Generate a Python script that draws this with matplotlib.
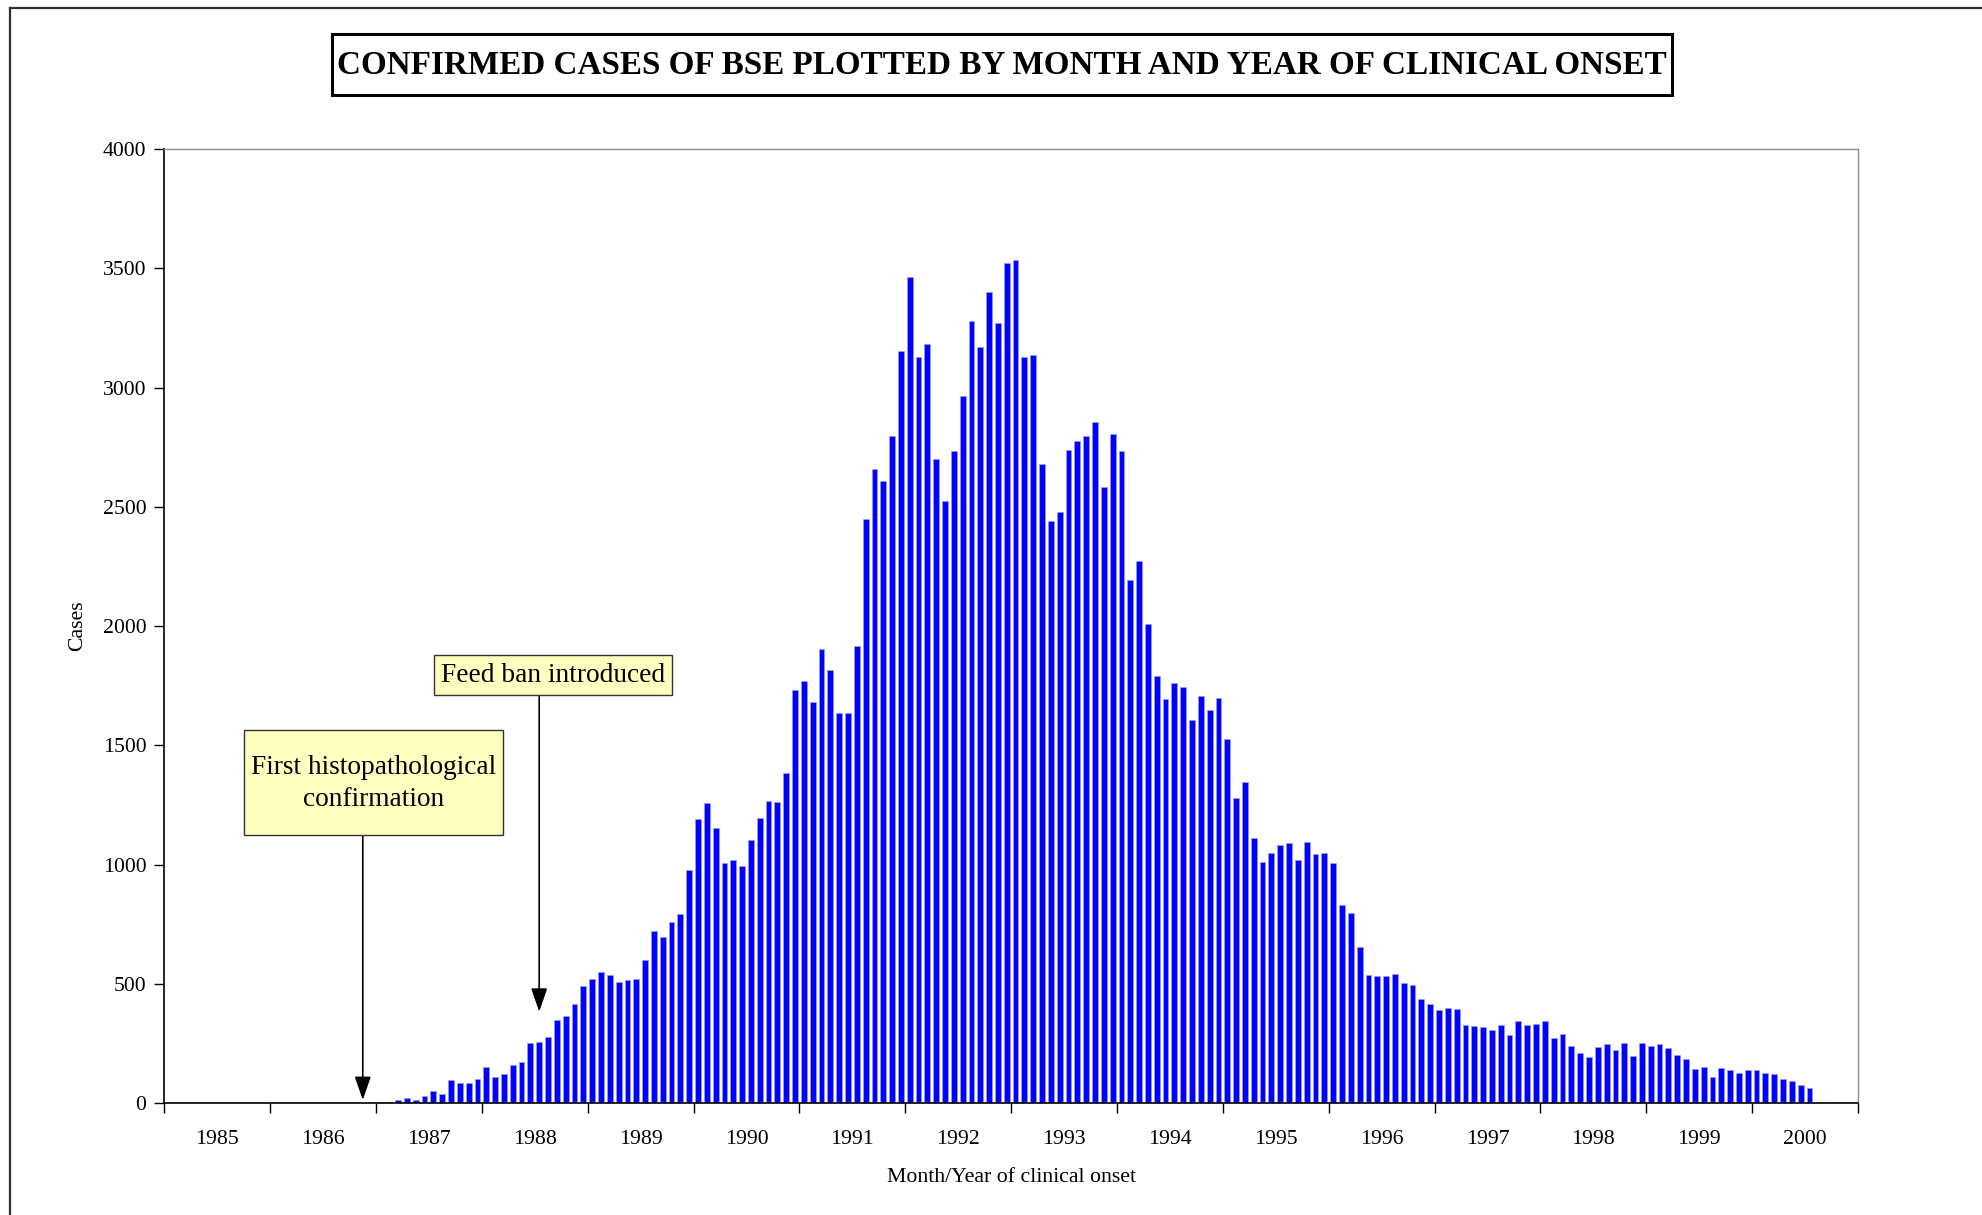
import matplotlib
matplotlib.use('Agg')
import matplotlib.pyplot as plt
from matplotlib.patches import Rectangle
from matplotlib.lines import Line2D
import numpy as np

plt.rcParams['font.family'] = ['Liberation Serif', 'DejaVu Serif']

W, H, DPI = 1982, 1215, 100

# monthly confirmed cases, Jan..Dec of each year
years = list(range(1985, 2001))
cases_1985 = [0, 0, 0, 0, 0, 0, 0, 0, 0, 0, 0, 0]
cases_1986 = [0, 0, 0, 0, 0, 0, 0, 0, 0, 0, 2, 3]
cases_1987 = [6, 6, 12, 22, 12, 32, 52, 39, 98, 84, 86, 103]
cases_1988 = [151, 110, 124, 159, 172, 251, 257, 277, 349, 366, 416, 493]
cases_1989 = [521, 551, 537, 507, 517, 522, 602, 721, 699, 760, 792, 978]
cases_1990 = [1193, 1260, 1154, 1007, 1018, 995, 1104, 1195, 1266, 1264, 1384, 1734]
cases_1991 = [1771, 1682, 1906, 1815, 1634, 1638, 1918, 2450, 2659, 2608, 2795, 3153]
cases_1992 = [3464, 3128, 3183, 2700, 2523, 2735, 2965, 3280, 3172, 3399, 3271, 3524]
cases_1993 = [3535, 3128, 3135, 2680, 2440, 2477, 2737, 2778, 2797, 2854, 2585, 2804]
cases_1994 = [2735, 2192, 2275, 2010, 1789, 1693, 1762, 1746, 1608, 1707, 1647, 1700]
cases_1995 = [1527, 1281, 1346, 1111, 1010, 1051, 1083, 1093, 1019, 1097, 1044, 1051]
cases_1996 = [1009, 830, 798, 654, 539, 532, 535, 543, 503, 496, 437, 416]
cases_1997 = [391, 400, 394, 330, 324, 319, 307, 330, 285, 346, 327, 331]
cases_1998 = [344, 274, 289, 240, 212, 193, 237, 249, 222, 251, 198, 253]
cases_1999 = [240, 247, 230, 203, 187, 142, 151, 110, 147, 141, 127, 138]
cases_2000 = [138, 127, 122, 102, 95, 77, 66, 0, 0, 0, 0, 0]

cases = (cases_1985 + cases_1986 + cases_1987 + cases_1988 + cases_1989 +
         cases_1990 + cases_1991 + cases_1992 + cases_1993 + cases_1994 +
         cases_1995 + cases_1996 + cases_1997 + cases_1998 + cases_1999 +
         cases_2000)

# annotation targets: month index and value the arrow tip reaches
first_conf_month, first_conf_tip, first_conf_start = 22, 14, 1124
feed_ban_month, feed_ban_tip, feed_ban_start = 42, 384, 1711


def fx(x):
    return x / W


def fy(y):
    return 1 - y / H


fig = plt.figure(figsize=(W / DPI, H / DPI), dpi=DPI)

# chart-area border (top and left edges visible)
fig.add_artist(Line2D([fx(10), 1], [fy(8), fy(8)], color='#303030', lw=1.6))
fig.add_artist(Line2D([fx(10), fx(10)], [fy(8), 0], color='#303030', lw=1.6))

ax = fig.add_axes([fx(164.3), fy(1103.3), (1858 - 164.3) / W, (1103.3 - 149) / H])

x = np.arange(len(cases))
ax.bar(x, cases, width=0.66, color='#0000FF', edgecolor='#9c9cff', linewidth=0.5)

ax.set_xlim(-0.5, len(cases) - 0.5)
ax.set_ylim(0, 4000)
ax.set_yticks(np.arange(0, 4001, 500))
ax.set_xticks(np.arange(-0.5, len(cases), 12))
ax.set_xticklabels([])
ax.set_xticks(np.arange(5.5, len(cases), 12), minor=True)
ax.set_xticklabels([str(y) for y in years], minor=True)

ax.tick_params(axis='both', which='major', direction='out', length=7, width=1,
               labelsize=15.7, color='black')
ax.tick_params(axis='y', pad=6)
ax.tick_params(axis='x', which='minor', length=0, pad=19, labelsize=15.7)

for s in ['top', 'right']:
    ax.spines[s].set_color('#8c8c8c')
    ax.spines[s].set_linewidth(1)
for s in ['left', 'bottom']:
    ax.spines[s].set_color('black')
    ax.spines[s].set_linewidth(1.2)

fig.text(fx(1011.7), fy(1177.5), 'Month/Year of clinical onset', ha='center',
         va='center', fontsize=15.7)
fig.text(fx(78), fy(626), 'Cases', ha='center', va='center', rotation=90,
         fontsize=15.7)

# title box
fig.add_artist(Rectangle((fx(332), fy(95)), (1672 - 332) / W, (95 - 34) / H,
                         transform=fig.transFigure, facecolor='white',
                         edgecolor='black', linewidth=2.2))
fig.text(fx(1002), fy(65), 'CONFIRMED CASES OF BSE PLOTTED BY MONTH AND YEAR OF CLINICAL ONSET',
         ha='center', va='center', fontsize=23.9, fontweight='bold')

# annotation boxes
fig.add_artist(Rectangle((fx(244.3), fy(835)), (503.3 - 244.3) / W, (835 - 730) / H,
                         transform=fig.transFigure, facecolor='#FFFFC0',
                         edgecolor='#333333', linewidth=1.0, zorder=5))
fig.text(fx(373.8), fy(783.5), 'First histopathological\nconfirmation', ha='center',
         va='center', fontsize=19.7, linespacing=1.38, zorder=6)

fig.add_artist(Rectangle((fx(434.3), fy(695)), (671.7 - 434.3) / W, (695 - 654.7) / H,
                         transform=fig.transFigure, facecolor='#FFFFC0',
                         edgecolor='#333333', linewidth=1.0, zorder=5))
fig.text(fx(553), fy(675.5), 'Feed ban introduced', ha='center', va='center',
         fontsize=19.7, zorder=6)

arrow = dict(arrowstyle='-|>,head_length=0.72,head_width=0.25', color='black',
             lw=1.2, mutation_scale=20, shrinkA=0, shrinkB=0)
ax.annotate('', xy=(first_conf_month, first_conf_tip),
            xytext=(first_conf_month, first_conf_start), arrowprops=arrow,
            annotation_clip=False)
ax.annotate('', xy=(feed_ban_month, feed_ban_tip),
            xytext=(feed_ban_month, feed_ban_start), arrowprops=arrow,
            annotation_clip=False)

fig.savefig('out.png', dpi=DPI)
